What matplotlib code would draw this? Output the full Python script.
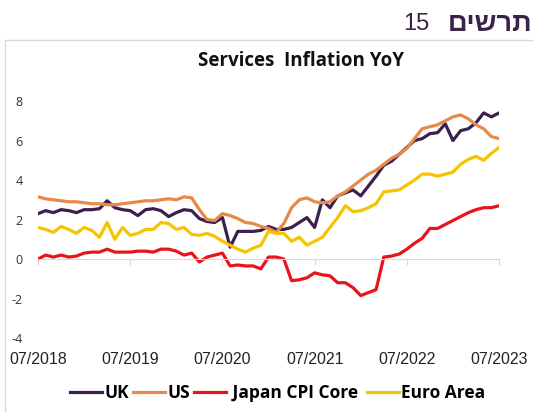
import matplotlib.pyplot as plt
from matplotlib.patches import Rectangle

# months since 07/2018 (monthly, 07/2018 .. 07/2023)
months = list(range(61))
tick_pos = [0, 12, 24, 36, 48, 60]
tick_labels = ['07/2018', '07/2019', '07/2020', '07/2021', '07/2022', '07/2023']
y_ticks = [-4, -2, 0, 2, 4, 6, 8]

uk = [2.3, 2.45, 2.35, 2.5, 2.45, 2.35, 2.5, 2.5, 2.55, 2.95,
      2.6, 2.5, 2.45, 2.2, 2.5, 2.55, 2.45, 2.15, 2.35, 2.5,
      2.45, 2.05, 1.9, 1.85, 2.1, 0.6, 1.4, 1.4, 1.4, 1.45,
      1.65, 1.5, 1.5, 1.6, 1.85, 2.1, 1.6, 3.0, 2.6, 3.2,
      3.35, 3.5, 3.2, 3.7, 4.2, 4.75, 4.95, 5.3, 5.65, 6.0,
      6.1, 6.35, 6.4, 6.85, 6.0, 6.5, 6.6, 6.9, 7.4, 7.2, 7.4]
us = [3.15, 3.05, 3.0, 2.95, 2.9, 2.9, 2.85, 2.8, 2.8, 2.75,
      2.75, 2.8, 2.85, 2.9, 2.95, 2.95, 3.0, 3.05, 3.0, 3.15,
      3.1, 2.5, 2.0, 1.95, 2.3, 2.2, 2.05, 1.85, 1.8, 1.65,
      1.55, 1.35, 1.8, 2.6, 3.0, 3.1, 2.9, 2.85, 2.9, 3.2,
      3.4, 3.7, 4.0, 4.3, 4.5, 4.8, 5.1, 5.3, 5.6, 6.1,
      6.6, 6.7, 6.8, 7.0, 7.2, 7.3, 7.1, 6.8, 6.6, 6.2, 6.1]
japan = [0.0, 0.2, 0.1, 0.2, 0.1, 0.15, 0.3, 0.35, 0.35, 0.5,
         0.35, 0.35, 0.35, 0.4, 0.4, 0.35, 0.5, 0.5, 0.4, 0.2,
         0.3, -0.15, 0.1, 0.2, 0.3, -0.35, -0.3, -0.35, -0.35, -0.5,
         0.1, 0.1, 0.0, -1.1, -1.05, -0.95, -0.7, -0.8, -0.85, -1.2,
         -1.2, -1.45, -1.85, -1.7, -1.55, 0.1, 0.15, 0.25, 0.5, 0.8,
         1.05, 1.55, 1.55, 1.75, 1.95, 2.15, 2.35, 2.5, 2.6, 2.6, 2.7]
euro = [1.6, 1.5, 1.35, 1.65, 1.5, 1.3, 1.6, 1.45, 1.1, 1.85,
        1.0, 1.6, 1.2, 1.3, 1.5, 1.5, 1.85, 1.8, 1.5, 1.6,
        1.25, 1.2, 1.3, 1.15, 0.9, 0.7, 0.5, 0.35, 0.55, 0.7,
        1.4, 1.3, 1.3, 0.9, 1.1, 0.7, 0.9, 1.1, 1.6, 2.1,
        2.7, 2.4, 2.45, 2.6, 2.8, 3.4, 3.45, 3.5, 3.75, 4.0,
        4.3, 4.3, 4.2, 4.3, 4.4, 4.8, 5.05, 5.2, 5.0, 5.35, 5.65]

fig = plt.figure(figsize=(5.33, 4.12), dpi=100)

# light frame round the chart
fig.patches.append(Rectangle((0.0094, -0.01), 1.0, 0.913, transform=fig.transFigure,
                             fill=False, edgecolor='#d9d9d9', linewidth=1))

# header (Hebrew, written in visual order)
fig.text(0.998, 0.942, 'םישרת', ha='right', va='center', fontsize=19.5,
         fontweight='bold', color='#3a2347', family='Liberation Sans')
fig.text(0.805, 0.942, '15', ha='right', va='center', fontsize=17,
         color='#3a2347', family='Liberation Sans')
fig.text(0.565, 0.853, 'Services  Inflation YoY', ha='center', va='center',
         fontsize=13.5, fontweight='bold', color='#111111', family='Open Sans')

ax = fig.add_axes([0.0713, 0.1796, 0.865, 0.599])
ax.plot(months, uk, color='#3b1f4e', lw=2.3, label='UK')
ax.plot(months, us, color='#e8894a', lw=2.3, label='US')
ax.plot(months, japan, color='#e8141c', lw=2.3, label=' Japan CPI Core ')
ax.plot(months, euro, color='#f5c400', lw=2.3, label='Euro Area')

ax.set_xlim(0, 60)
ax.set_ylim(-4, 8.5)
ax.set_yticks(y_ticks)
ax.set_yticklabels([str(v) for v in y_ticks], family='Open Sans', fontsize=9,
                   color='#333333')
ax.tick_params(axis='y', length=0, pad=11)

for s in ['top', 'right', 'left']:
    ax.spines[s].set_visible(False)
ax.spines['bottom'].set_position(('data', 0))
ax.spines['bottom'].set_color('#d9d9d9')
ax.set_xticks(tick_pos)
ax.tick_params(axis='x', length=4, color='#d9d9d9', labelbottom=False)

sec = ax.secondary_xaxis('bottom')
sec.set_xticks(tick_pos)
sec.set_xticklabels(tick_labels, family='Liberation Sans', fontsize=11.5,
                    color='#222222')
sec.tick_params(length=0, pad=10)
sec.spines['bottom'].set_visible(False)

fig.legend(loc='center', bbox_to_anchor=(0.521, 0.046), ncol=4, frameon=False,
           handlelength=1.85, handletextpad=0.15, columnspacing=0.2,
           prop={'family': 'Open Sans', 'weight': 'bold', 'size': 12.5})

fig.savefig('out.png', dpi=100)
